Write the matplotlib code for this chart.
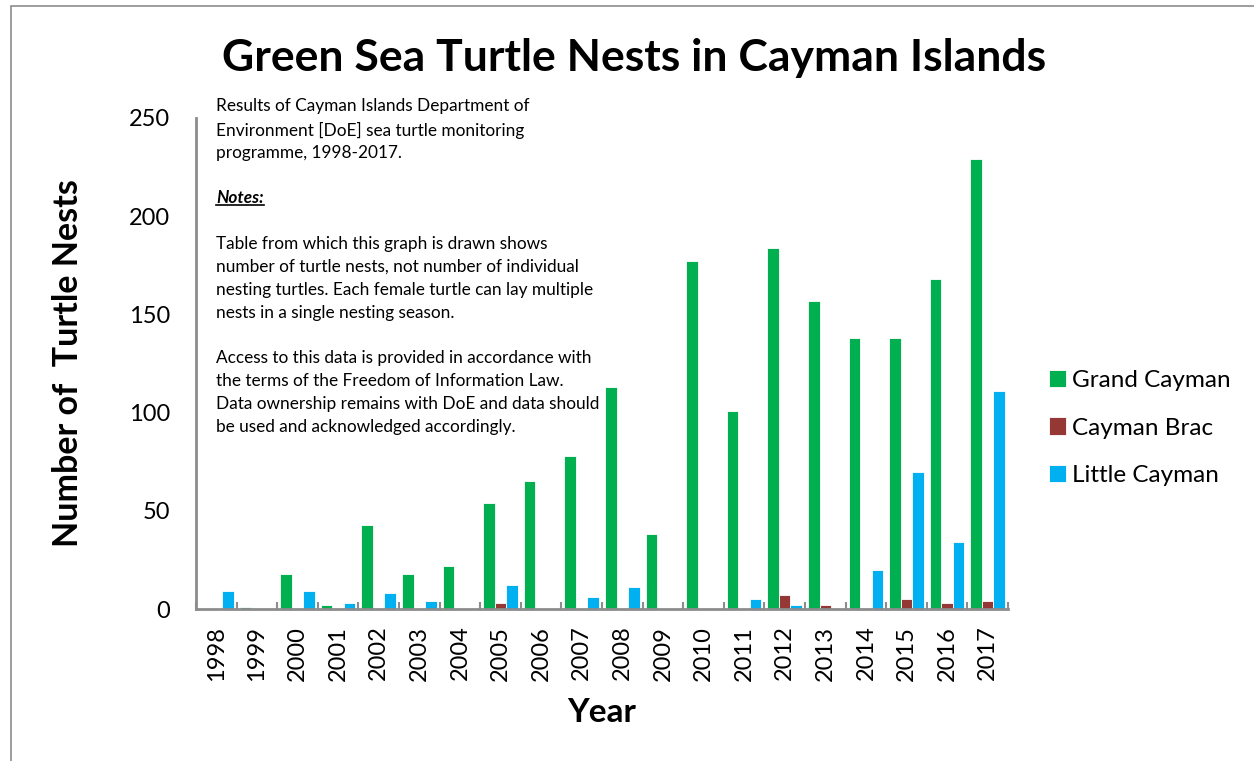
import matplotlib
matplotlib.use("Agg")
import matplotlib.pyplot as plt
import numpy as np
from matplotlib.lines import Line2D
from matplotlib.patches import Rectangle

years = [str(y) for y in range(1998, 2018)]
grand_cayman = [0, 1, 18, 2, 43, 18, 22, 54, 65, 78, 113, 38, 177, 101, 184, 157, 138, 138, 168, 229]
cayman_brac = [0, 0, 0, 0, 0, 0, 0, 3, 0, 0, 0, 0, 0, 0, 7, 2, 0, 5, 3, 4]
little_cayman = [9, 0, 9, 3, 8, 4, 0, 12, 0, 6, 11, 0, 0, 5, 2, 0, 20, 70, 34, 111]
series_names = ["Grand Cayman", "Cayman Brac", "Little Cayman"]
colors = ["#00B050", "#953735", "#00B0F0"]

plt.rcParams['font.family'] = ['Lato', 'DejaVu Sans']

W, H = 1254, 761
fig = plt.figure(figsize=(W / 100, H / 100), dpi=100)

def fx(px):
    return px / W

def fy(py):
    return 1 - py / H

# outer border
fig.patches.append(Rectangle((fx(11), fy(761 + 20)), 1.2, fy(6) - fy(781),
                             transform=fig.transFigure, fill=False,
                             edgecolor="#8c8c8c", linewidth=1.2))

ax = fig.add_axes([fx(196), fy(609), fx(1008) - fx(196), fy(118) - fy(609)])
x = np.arange(len(years))
w = 0.283
for i, (vals, name, c) in enumerate(zip([grand_cayman, cayman_brac, little_cayman], series_names, colors)):
    ax.bar(x + (i - 1) * w, vals, width=w, color=c, label=name,
           edgecolor="white", linewidth=0.6)

ax.set_xlim(-0.5, len(years) - 0.5)
ax.set_ylim(0, 250)
ax.set_yticks(range(0, 251, 50))
ax.set_xticks(x)
ax.set_xticklabels(years, rotation=90, fontsize=17)
ax.set_xticks(np.arange(-0.5, len(years), 1), minor=True)
ax.tick_params(axis='x', which='major', length=0, pad=12)
ax.tick_params(axis='x', which='minor', length=5, width=1.5, direction='in', color="#8c8c8c")
ax.tick_params(axis='y', length=0, pad=18.5, labelsize=17)
for s in ["top", "right"]:
    ax.spines[s].set_visible(False)
for s in ["left", "bottom"]:
    ax.spines[s].set_color("#8c8c8c")
    ax.spines[s].set_linewidth(2)

ax.set_xlabel("Year", fontsize=24, fontweight="bold")
ax.set_ylabel("Number of  Turtle Nests", fontsize=24.5, fontweight="bold")
ax.yaxis.set_label_coords((fx(68) - fx(196)) / (fx(1008) - fx(196)), 0.5)
ax.xaxis.set_label_coords(0.5, (fy(713) - fy(609)) / (fy(118) - fy(609)))
ax.xaxis.label.set_va("center")
ax.yaxis.label.set_va("center")

fig.text(fx(634), fy(58), "Green Sea Turtle Nests in Cayman Islands",
         ha="center", va="center", fontsize=32, fontweight="bold")

leg = ax.legend(loc="center left", bbox_to_anchor=(fx(1027), fy(428)), bbox_transform=fig.transFigure,
                frameon=False, fontsize=17.5, handlelength=0.7, handleheight=0.7,
                handletextpad=0.25, labelspacing=1.1)

lines = [
    (106, "Results of Cayman Islands Department of"),
    (130, "Environment [DoE] sea turtle monitoring"),
    (153, "programme, 1998-2017."),
    (244, "Table from which this graph is drawn shows"),
    (267, "number of turtle nests, not number of individual"),
    (290, "nesting turtles. Each female turtle can lay multiple"),
    (313, "nests in a single nesting season."),
    (358, "Access to this data is provided in accordance with"),
    (381, "the terms of the Freedom of Information Law."),
    (404, "Data ownership remains with DoE and data should"),
    (427, "be used and acknowledged accordingly."),
]
for py, t in lines:
    fig.text(fx(216), fy(py), t, ha="left", va="center", fontsize=12.4)
notes = fig.text(fx(216), fy(198), "Notes:", ha="left", va="center", fontsize=12.4,
                 fontweight="bold", fontstyle="italic")

fig.canvas.draw()
bb = notes.get_window_extent().transformed(fig.transFigure.inverted())
fig.add_artist(Line2D([bb.x0, bb.x1], [bb.y0 + 0.001, bb.y0 + 0.001], transform=fig.transFigure,
                      color="black", linewidth=1.2))

fig.savefig("out.png", dpi=100)
